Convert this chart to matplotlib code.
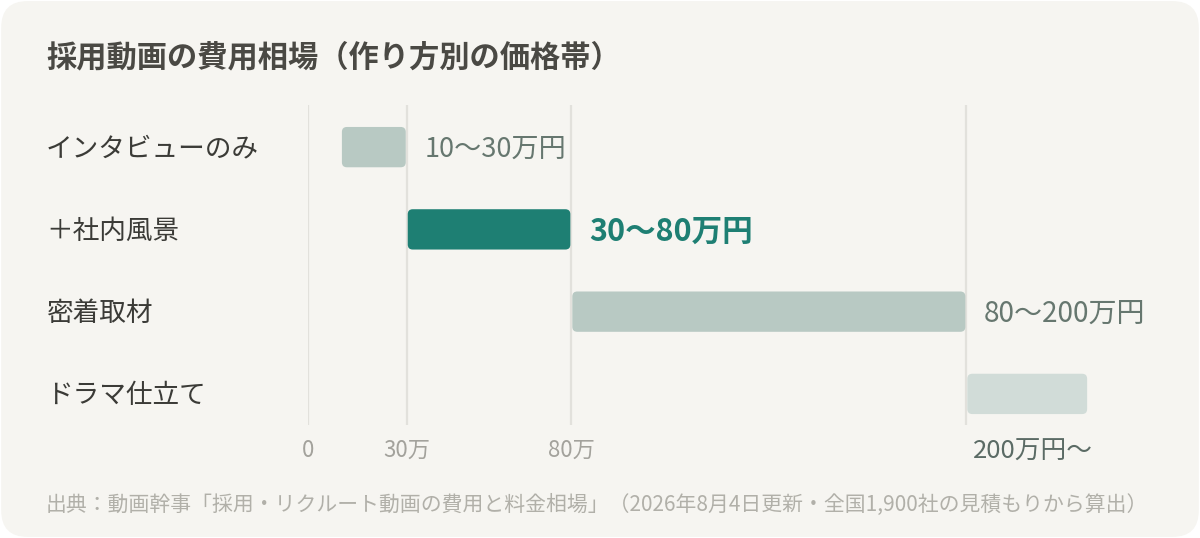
import matplotlib
matplotlib.use("Agg")
import matplotlib.pyplot as plt
from matplotlib.patches import FancyBboxPatch
from matplotlib.transforms import blended_transform_factory, ScaledTranslation

plt.rcParams["font.family"] = ["Noto Sans CJK JP", "DejaVu Sans"]

# data (万円)
categories = ["インタビューのみ", "＋社内風景", "密着取材", "ドラマ仕立て"]
low = [10, 30, 80, 200]
high = [30, 80, 200, 237]
value_labels = ["10〜30万円", "30〜80万円", "80〜200万円", ""]
highlight = 1
tick_values = [0, 30, 80, 200]
tick_labels = ["0", "30万", "80万", "200万円〜"]

title = "採用動画の費用相場（作り方別の価格帯）"
source = "出典：動画幹事「採用・リクルート動画の費用と料金相場」（2026年8月4日更新・全国1,900社の見積もりから算出）"

BG = "#f6f5f1"
bar_colors = ["#b8c9c3", "#1e7f73", "#b8c9c3", "#d1dcd8"]

W, H = 1200, 538
fig = plt.figure(figsize=(W / 100, H / 100), dpi=100)
fig.patch.set_facecolor("white")

# card background
card = FancyBboxPatch((0.001, 0.002), 0.998, 0.996,
                      boxstyle="round,pad=0,rounding_size=0.022",
                      mutation_aspect=W / H, transform=fig.transFigure,
                      facecolor=BG, edgecolor="none", zorder=-5)
fig.patches.append(card)

ax = fig.add_axes([308 / W, 1 - 425 / H, 790 / W, 320 / H])
ax.set_zorder(2)
ax.set_facecolor("none")
ax.set_xlim(0, 240)
ax.set_ylim(3.378, -0.512)
for s in ax.spines.values():
    s.set_visible(False)

for v in tick_values:
    ax.axvline(v, color="#e2e1dc", lw=1.6, zorder=1)

bars = ax.barh(range(len(categories)), [h - l for l, h in zip(low, high)],
               left=low, height=0.49, color=bar_colors)

# swap plain bars for rounded ones
px_x = 240 / 790
px_y = 3.89 / 320
for b in bars:
    x, y = b.get_x(), b.get_y()
    w, h = b.get_width(), b.get_height()
    r = FancyBboxPatch((x + 0.3, y), w - 0.6, h,
                       boxstyle="round,pad=0,rounding_size=%f" % (5 * px_x),
                       mutation_aspect=px_y / px_x,
                       facecolor=b.get_facecolor(), edgecolor="none",
                       clip_on=False, zorder=2)
    ax.add_patch(r)
    b.set_visible(False)

label_sizes = [19.5, 22, 20.2, 19.5]
for i, (h, lab) in enumerate(zip(high, value_labels)):
    if not lab:
        continue
    if i == highlight:
        ax.text(h + 5.3, i + 0.03, lab, va="center", ha="left",
                fontsize=label_sizes[i], fontweight="bold", color="#1e7f73")
    else:
        ax.text(h + 5.3, i + 0.03, lab, va="center", ha="left",
                fontsize=label_sizes[i], color="#66776f")

ax.set_yticks([])
ax.set_xticks(tick_values)
ax.set_xticklabels(tick_labels, fontsize=16, color="#a3a29c")
ax.tick_params(axis="x", length=0, pad=10)
last = ax.get_xticklabels()[-1]
last.set_ha("left")
last.set_color("#5b6b65")
last.set_fontsize(18.5)
last.set_transform(last.get_transform() + ScaledTranslation(7 / 100, 0, fig.dpi_scale_trans))

trans = blended_transform_factory(fig.transFigure, ax.transData)
for i, c in enumerate(categories):
    ax.text(46 / W, i + 0.02, c, transform=trans, ha="left", va="center",
            fontsize=19.2, color="#3b3b37")

fig.text(46 / W, 1 - 57 / H, title, ha="left", va="center", fontsize=21.8,
         fontweight="bold", color="#4a4944")
fig.text(46 / W, 1 - 505 / H, source, ha="left", va="center", fontsize=15,
         color="#b1b0a9")

fig.savefig("out.png", dpi=100, facecolor=fig.get_facecolor())
